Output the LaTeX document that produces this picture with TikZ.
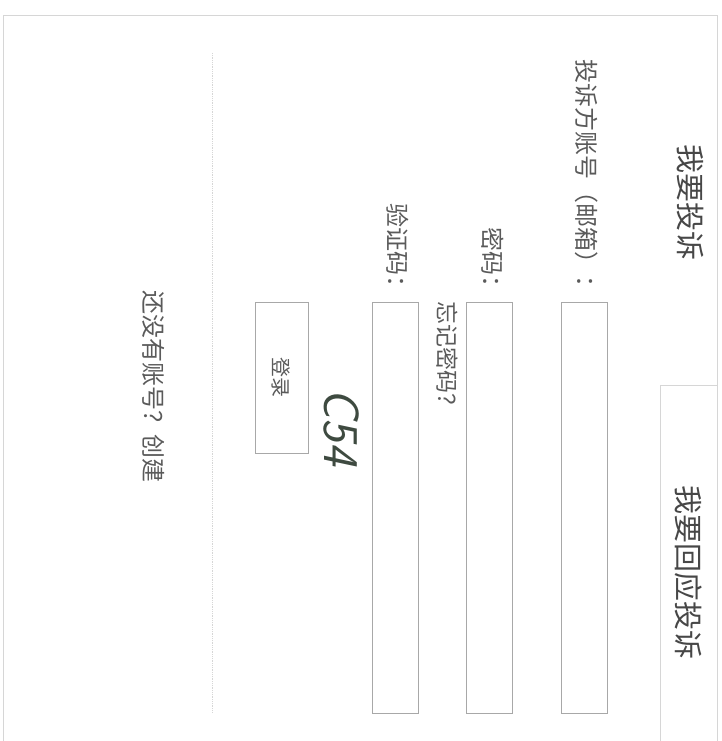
\documentclass[tikz,border=0pt]{standalone}
\usepackage{fontspec}
\newfontfamily\cjk{Noto Sans CJK SC}

\definecolor{framegray}{HTML}{D6D6D6}
\definecolor{boxgray}{HTML}{A8A8A8}
\definecolor{textgray}{HTML}{5A5A5A}
\definecolor{captchagreen}{HTML}{3E4A40}

\tikzset{
    vtext/.style={rotate=-90, inner sep=0pt, text=textgray, font=\cjk\fontsize{24}{24}\selectfont},
    title/.style={vtext, text=black!72, font=\cjk\fontsize{29}{29}\selectfont},
    inputbox/.style={draw=boxgray, line width=0.6pt, rotate=-90, minimum width=411pt, minimum height=46pt, inner sep=0pt},
    button/.style={inputbox, minimum width=151pt, minimum height=53pt, text=textgray, font=\cjk\fontsize{20}{20}\selectfont}
}

\begin{document}
\begin{tikzpicture}[x=1pt, y=-1pt]
    \useasboundingbox (0,0) rectangle (722,741);

    % outer frame, open at the bottom
    \draw [framegray, line width=0.8pt] (3,741) -- (3,15) -- (717,15) -- (717,741);
    % second tab
    \draw [framegray, line width=0.8pt] (660,741) -- (660,385) -- (717,385);
    % separator
    \draw [framegray, densely dotted, line width=0.8pt] (212,53) -- (212,713);

    \node[title] (Complain) at (690,202) {我要投诉};
    \node[title] (Respond) at (689,572) {我要回应投诉};

    \node[vtext, anchor=east] (AccountLabel) at (587,300) {投诉方账号（邮箱）：};
    \node[inputbox] (AccountBox) at (584,507.5) {};

    \node[vtext, anchor=east] (PasswordLabel) at (493,300) {密码：};
    \node[inputbox] (PasswordBox) at (489.5,507.5) {};
    \node[vtext, anchor=west, font=\cjk\fontsize{23}{23}\selectfont] (Forgot) at (447,301) {忘记密码？};

    \node[vtext, anchor=east] (CodeLabel) at (398,300) {验证码：};
    \node[inputbox] (CodeBox) at (395.5,507.5) {};

    \node[rotate=-90, inner sep=0pt, text=captchagreen, font=\sffamily\itshape\fontsize{50}{50}\selectfont] (Captcha) at (341,427) {C54};

    \node[button] (Login) at (281.5,377.5) {登录};

    \node[vtext, anchor=west] (Signup) at (154,290) {还没有账号？创建};

\end{tikzpicture}
\end{document}
